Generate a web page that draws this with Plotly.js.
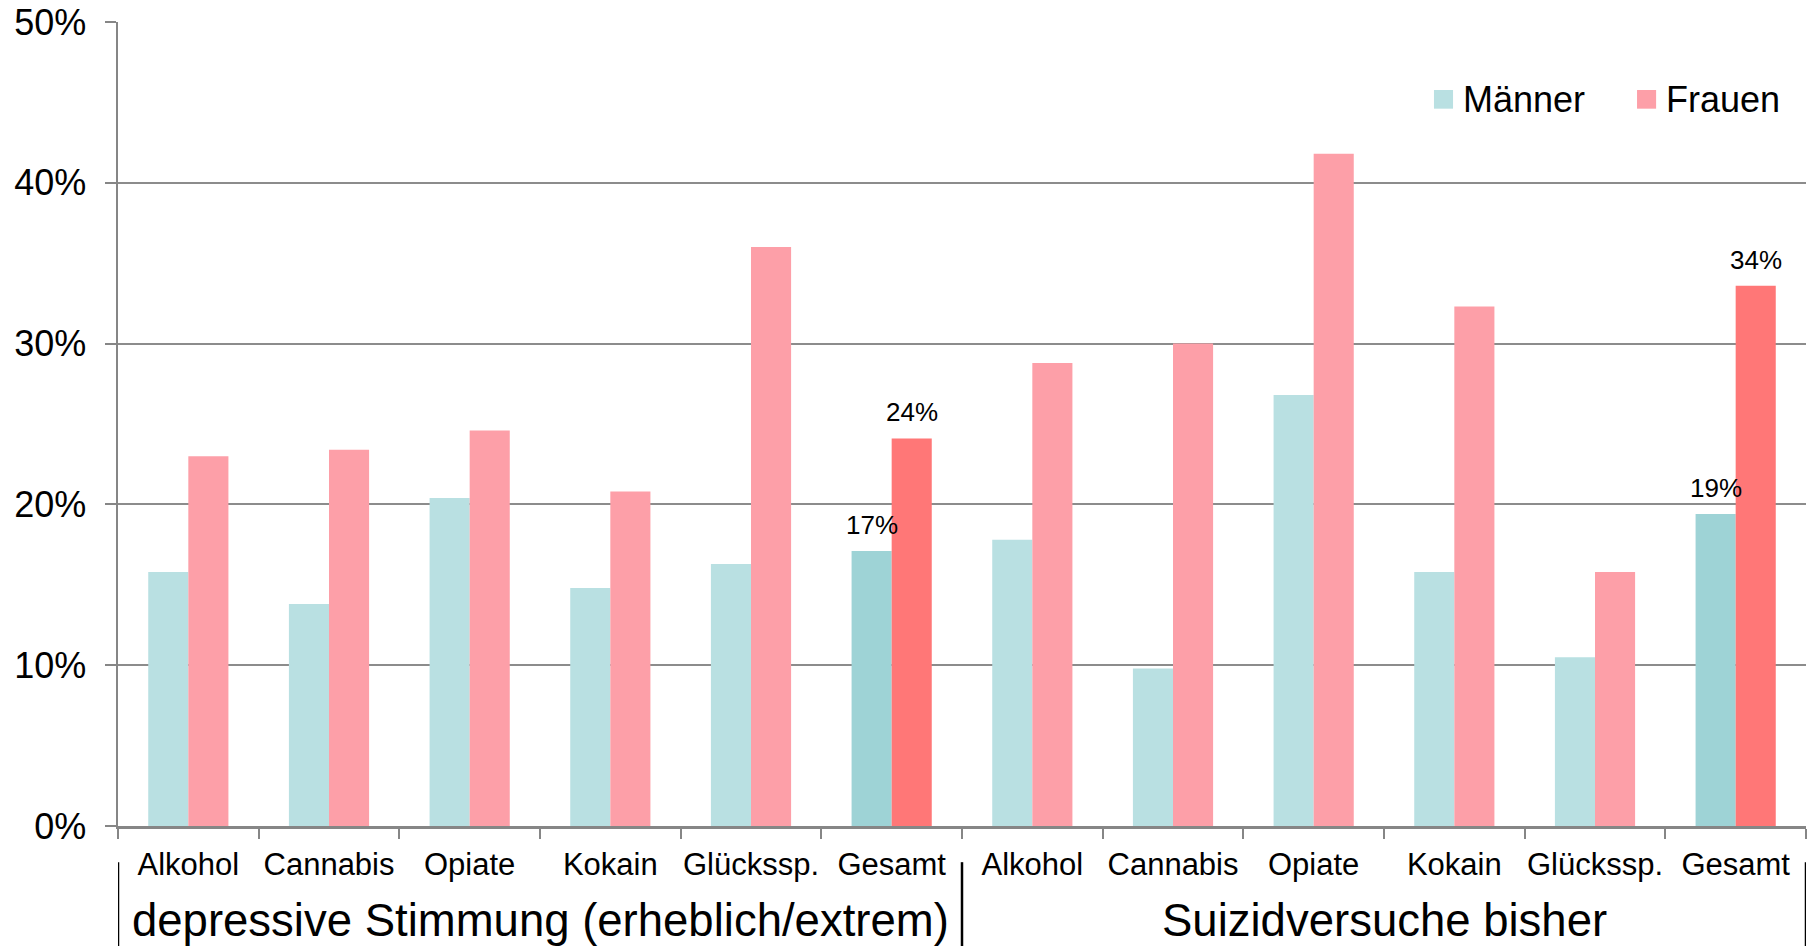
<!DOCTYPE html>
<html>
<head>
<meta charset="utf-8">
<script src="https://cdn.plot.ly/plotly-3.0.1.min.js"></script>
<style>html,body{margin:0;padding:0;background:#fff;}#chart{width:1810px;height:946px;}</style>
</head>
<body>
<div id="chart"></div>
<script>
// ---- data ----
const groups = ["depressive Stimmung (erheblich/extrem)", "Suizidversuche bisher"];
const categories = ["Alkohol", "Cannabis", "Opiate", "Kokain", "Glückssp.", "Gesamt"];
const maennerDepressiv = [0.158, 0.138, 0.204, 0.148, 0.163, 0.171];
const frauenDepressiv  = [0.230, 0.234, 0.246, 0.208, 0.360, 0.241];
const maennerSuizid    = [0.178, 0.098, 0.268, 0.158, 0.105, 0.194];
const frauenSuizid     = [0.288, 0.300, 0.418, 0.323, 0.158, 0.336];
const seriesNames = ["Männer", "Frauen"];
const yTickVals = [0, 0.1, 0.2, 0.3, 0.4, 0.5];

// ---- build ----
const nCat = categories.length;
const allCats = [];
groups.forEach(() => { categories.forEach(c => allCats.push(c)); });
const xPos = allCats.map((_, i) => i);
const maenner = maennerDepressiv.concat(maennerSuizid);
const frauen = frauenDepressiv.concat(frauenSuizid);

const colM = "#b9e0e2", colMTotal = "#9ed3d6";
const colF = "#fd9fa8", colFTotal = "#ff7777";
const isTotal = allCats.map(c => c === "Gesamt");
const pct = v => Math.round(v * 100) + "%";

const font = "Liberation Sans, Arial, sans-serif";
const bargap = 0.43;
const halfBar = (1 - bargap) / 4;   // offset of each bar centre from the category centre

const traces = [
  {
    type: "bar", name: seriesNames[0], x: xPos, y: maenner,
    marker: {color: isTotal.map(t => t ? colMTotal : colM), line: {width: 0}},
    hoverinfo: "y"
  },
  {
    type: "bar", name: seriesNames[1], x: xPos, y: frauen,
    marker: {color: isTotal.map(t => t ? colFTotal : colF), line: {width: 0}},
    hoverinfo: "y"
  },
  // invisible trace to activate the boundary-tick axis
  {type: "scatter", x: [], y: [], xaxis: "x2", showlegend: false, hoverinfo: "skip"}
];

const xRange = [-0.5, xPos.length - 0.5];
const boundaries = [];
for (let i = 0; i <= xPos.length; i++) boundaries.push(i - 0.5);

const shapes = [];
for (let g = 0; g <= groups.length; g++) {
  const xb = g * nCat - 0.5;
  shapes.push({type: "line", xref: "x", yref: "paper", x0: xb, x1: xb, y0: -0.045, y1: -0.16,
    line: {color: "#000", width: 2.5}});
}

const annotations = groups.map((g, gi) => ({
  text: g, xref: "x", yref: "paper", x: gi * nCat + (nCat - 1) / 2, y: -0.117,
  xanchor: "center", yanchor: "middle", showarrow: false,
  font: {family: font, size: 45.5, color: "#000"}
}));

// value labels on the "Gesamt" bars
xPos.forEach((xi, i) => {
  if (!isTotal[i]) return;
  [[maenner[i], -halfBar], [frauen[i], halfBar]].forEach(([v, off]) => {
    annotations.push({
      text: pct(v), xref: "x", yref: "y", x: xi + off, y: v,
      xanchor: "center", yanchor: "bottom", yshift: 10, borderpad: 0,
      showarrow: false, font: {family: font, size: 26, color: "#000"}
    });
  });
});

// legend (drawn manually for matching swatch size)
const legendColors = [colM, colF];
const legendX = [0.7796, 0.8999];
const swatchW = 0.0113, swatchY0 = 0.8922, swatchY1 = 0.9154, legendTextY = 0.9038;
seriesNames.forEach((n, k) => {
  shapes.push({type: "rect", xref: "paper", yref: "paper",
    x0: legendX[k], x1: legendX[k] + swatchW, y0: swatchY0, y1: swatchY1,
    fillcolor: legendColors[k], line: {width: 0}});
  annotations.push({text: n, xref: "paper", yref: "paper",
    x: legendX[k] + swatchW + 0.0052, y: legendTextY, xanchor: "left", yanchor: "middle",
    borderpad: 0, showarrow: false, font: {family: font, size: 36, color: "#000"}});
});

const layout = {
  width: 1810, height: 946,
  margin: {l: 118, r: 4, t: 22, b: 120},
  paper_bgcolor: "#fff", plot_bgcolor: "#fff",
  barmode: "group", bargap: bargap, bargroupgap: 0,
  font: {family: font, color: "#000"},
  showlegend: false,
  xaxis: {
    range: xRange, tickmode: "array", tickvals: xPos, ticktext: allCats,
    ticks: "", showgrid: false, zeroline: false, showline: false,
    tickfont: {family: font, size: 31, color: "#000"}, ticklabelstandoff: 17,
    fixedrange: true
  },
  xaxis2: {
    overlaying: "x", anchor: "y", side: "bottom", range: xRange,
    tickmode: "array", tickvals: boundaries, showticklabels: false,
    ticks: "outside", ticklen: 10, tickwidth: 2, tickcolor: "#868686",
    showline: true, linecolor: "#868686", linewidth: 2.5,
    showgrid: false, zeroline: false
  },
  yaxis: {
    range: [0, 0.5], tickmode: "array", tickvals: yTickVals, tickformat: ".0%",
    ticks: "outside", ticklen: 11, tickwidth: 2, tickcolor: "#868686",
    showline: true, linecolor: "#868686", linewidth: 2.5,
    showgrid: true, gridcolor: "#8c8c8c", gridwidth: 2, zeroline: false,
    tickfont: {family: font, size: 36, color: "#000"}, ticklabelstandoff: 11
  },
  shapes: shapes,
  annotations: annotations
};

Plotly.newPlot("chart", traces, layout, {displayModeBar: false, staticPlot: true});
</script>
</body>
</html>
